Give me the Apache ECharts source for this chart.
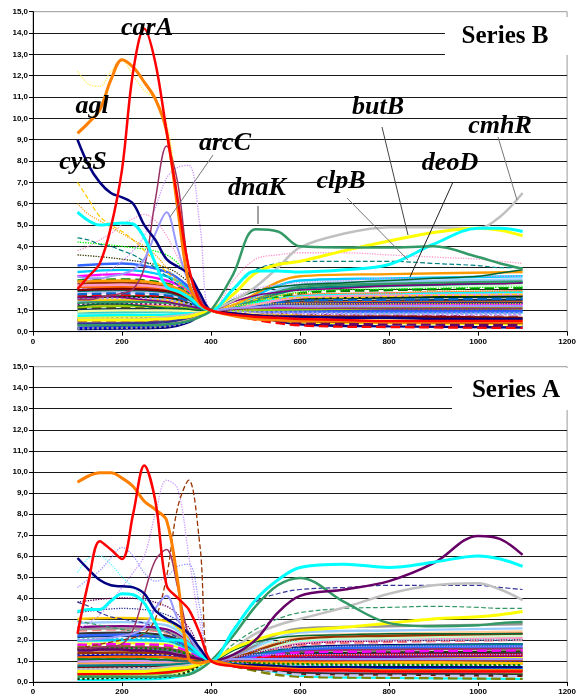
<!DOCTYPE html>
<html><head><meta charset="utf-8">
<script src="https://cdn.jsdelivr.net/npm/echarts@6/dist/echarts.min.js"></script>
<style>html,body{margin:0;padding:0;background:#fff}#c{width:579px;height:696px}</style>
</head><body><div id="c"></div>
<script>
// ---------- DATA ----------
const panelTitles = ['Series B', 'Series A'];
const xMin = 0, xMax = 1200, xStep = 200;
const yMin = 0, yMax = 15, yStep = 1;

// shared x positions for highlighted profiles
const hiX = [100,125,150,175,200,225,250,275,300,325,350,375,400,450,500,550,600,700,800,900,1000,1050,1100];
// shared x positions for background profiles
const bgX = [100,200,300,350,400,600,800,1100];

// ---- Series B (top) highlighted profiles ----
const bCarA  = [2.0,2.6,3.2,4.9,7.6,12.2,14.2,12.6,9.4,6.2,3.0,1.4,1.0,0.8,0.7,0.65,0.6,0.55,0.5,0.5,0.5,0.5,0.5];
const bAgl   = [9.3,9.8,10.4,11.8,12.75,12.4,11.7,10.9,9.4,5.8,2.3,1.3,1.0,0.75,0.6,0.55,0.5,0.5,0.45,0.45,0.45,0.45,0.45];
const bCysS  = [9.0,7.8,7.0,6.5,6.3,6.0,5.0,4.3,3.4,3.05,2.7,1.8,1.0,0.85,0.75,0.7,0.7,0.65,0.65,0.6,0.6,0.6,0.6];
const bCyan  = [5.6,5.2,5.0,5.05,5.1,5.05,4.4,3.2,2.1,1.9,1.6,1.2,1.0,2.0,2.85,2.85,2.8,2.9,3.15,4.1,4.85,4.85,4.7];
const bDnaK  = [0.3,0.3,0.3,0.3,0.3,0.3,0.3,0.3,0.35,0.4,0.5,0.7,1.0,2.7,4.8,4.7,4.0,3.95,3.95,4.0,3.5,3.2,2.95];
const bCmhR  = [0.6,0.6,0.6,0.6,0.6,0.6,0.6,0.65,0.7,0.75,0.8,0.9,1.0,1.45,2.1,3.0,3.95,4.6,4.9,4.9,4.85,5.4,6.5];
const bButB  = [0.55,0.55,0.55,0.55,0.55,0.55,0.55,0.6,0.6,0.65,0.7,0.85,1.0,1.75,2.75,3.15,3.3,3.8,4.25,4.65,4.85,4.75,4.5];
const bDeoD  = [1.2,1.25,1.3,1.3,1.3,1.25,1.2,1.15,1.1,1.1,1.05,1.0,1.0,1.5,1.9,2.1,2.2,2.3,2.4,2.5,2.6,2.75,2.9];
const bPurp  = [1.6,1.6,1.65,1.65,1.6,1.55,1.5,1.45,1.4,1.3,1.2,1.1,1.0,1.4,1.7,1.85,1.95,2.05,2.15,2.2,2.25,2.25,2.3];
const bArcC  = [2.6,2.5,2.5,2.6,2.7,2.9,3.4,4.6,5.6,3.9,2.3,1.4,1.0,1.1,1.15,1.2,1.2,1.2,1.2,1.2,1.2,1.2,1.2];
const bMauve = [1.5,1.5,1.6,1.7,1.8,2.0,3.0,6.2,8.7,7.0,3.0,1.6,1.0,1.05,1.1,1.1,1.1,1.1,1.1,1.1,1.1,1.1,1.1];
const bYelDot  = [12.2,11.6,11.5,12.2,12.7,12.0,11.3,10.9,9.8,6.5,3.0,1.5,1.0,1.2,1.3,1.3,1.3,1.3,1.3,1.3,1.3,1.3,1.3];
const bYelDash = [7.0,6.2,5.4,5.0,4.7,4.3,3.8,3.3,2.8,2.3,1.8,1.3,1.0,1.3,1.5,1.55,1.6,1.6,1.65,1.7,1.7,1.75,1.75];
const bLavDot  = [2.2,2.4,2.6,2.9,3.3,3.8,4.5,5.8,7.2,7.7,7.8,5.0,1.0,1.6,2.0,2.2,2.3,2.4,2.5,2.5,2.6,2.6,2.6];
const bPinkDot = [3.8,4.0,4.3,4.6,5.0,5.3,5.5,5.2,4.5,3.5,2.5,1.6,1.0,2.4,3.4,3.6,3.7,3.7,3.6,3.5,3.4,3.3,3.2];
const bTealDash= [4.4,4.3,4.1,4.0,3.8,3.6,3.3,3.0,2.6,2.2,1.8,1.3,1.0,2.0,2.9,3.2,3.3,3.3,3.3,3.2,3.1,3.0,3.0];
const bOrgDot  = [6.0,5.5,5.2,4.9,4.6,4.3,4.0,3.6,3.0,2.4,1.9,1.4,1.0,1.4,1.6,1.7,1.8,1.8,1.8,1.9,1.9,1.9,1.9];

// ---- Series A (bottom) highlighted profiles ----
const aOrange = [9.5,9.8,9.95,9.95,9.7,9.3,8.6,8.2,7.7,4.8,1.1,0.9,1.0,0.8,0.7,0.65,0.6,0.6,0.55,0.55,0.55,0.55,0.55];
const aRed    = [2.3,4.8,6.7,6.3,5.85,8.0,10.3,8.6,4.6,4.0,3.45,2.3,1.0,0.75,0.65,0.6,0.55,0.55,0.5,0.5,0.5,0.5,0.5];
const aNavy   = [5.9,5.35,4.85,4.6,4.55,4.5,4.2,3.4,3.0,2.7,2.3,1.6,1.0,0.85,0.8,0.75,0.7,0.7,0.7,0.7,0.7,0.7,0.7];
const aCyan   = [3.35,3.45,3.45,3.85,4.2,4.15,3.75,2.8,2.0,2.0,1.8,1.3,1.0,2.45,3.9,4.85,5.45,5.6,5.45,5.7,6.0,5.85,5.5];
const aPurple = [1.5,1.5,1.55,1.55,1.55,1.5,1.5,1.45,1.4,1.3,1.2,1.1,1.0,1.3,2.0,3.3,4.1,4.4,4.8,5.65,6.95,6.8,6.05];
const aDnaK   = [0.25,0.25,0.25,0.25,0.25,0.25,0.25,0.25,0.3,0.3,0.35,0.6,1.0,2.2,3.6,4.6,4.95,3.8,2.8,2.65,2.7,2.8,2.85];
const aGray   = [0.6,0.6,0.6,0.6,0.6,0.6,0.6,0.65,0.7,0.75,0.8,0.9,1.0,1.6,2.3,2.7,3.0,3.55,4.2,4.6,4.7,4.4,3.9];
const aYellow = [0.5,0.5,0.5,0.5,0.5,0.5,0.5,0.55,0.6,0.65,0.7,0.85,1.0,1.6,2.0,2.3,2.45,2.6,2.8,3.0,3.1,3.2,3.35];
const aDkGreen= [1.1,1.1,1.1,1.1,1.1,1.1,1.1,1.05,1.05,1.0,1.0,1.0,1.0,1.5,1.9,2.1,2.2,2.25,2.3,2.3,2.3,2.3,2.3];
const aLav    = [2.0,2.0,2.05,2.1,2.2,2.3,2.6,3.5,4.1,3.0,2.2,1.4,1.0,1.1,1.1,1.1,1.1,1.1,1.1,1.1,1.1,1.1,1.1];
const aMauve  = [1.6,1.6,1.65,1.7,1.8,2.5,4.2,5.8,6.3,4.5,2.2,1.3,1.0,1.05,1.05,1.05,1.05,1.05,1.05,1.05,1.05,1.05,1.05];
const aLavDot  = [2.5,2.8,3.2,3.8,4.5,5.2,6.0,8.0,9.6,9.2,6.0,2.8,1.0,1.2,1.3,1.3,1.3,1.3,1.3,1.3,1.3,1.3,1.3];
const aBrownDot= [1.6,1.7,1.8,1.9,2.0,2.1,2.3,3.0,5.0,8.3,9.6,6.5,1.0,1.1,1.1,1.1,1.1,1.1,1.1,1.1,1.1,1.1,1.1];
const aCyanDot = [5.2,5.9,6.0,5.6,5.0,4.5,4.0,3.5,3.0,2.5,2.0,1.5,1.0,1.5,1.8,1.9,1.95,2.0,2.0,2.0,2.0,2.0,2.0];
const aLavDot2 = [4.5,4.9,5.3,5.9,6.4,6.0,5.2,4.8,5.0,5.5,5.6,3.5,1.0,1.3,1.5,1.6,1.6,1.7,1.7,1.7,1.7,1.7,1.7];
const aNavyDash= [3.8,3.6,3.3,3.1,3.0,2.9,2.8,2.6,2.4,2.1,1.8,1.4,1.0,2.5,3.8,4.2,4.4,4.5,4.6,4.6,4.6,4.5,4.4];
const aGreenDash=[2.9,2.8,2.7,2.6,2.5,2.4,2.3,2.2,2.0,1.8,1.6,1.3,1.0,1.8,2.5,3.0,3.3,3.5,3.55,3.6,3.55,3.5,3.5];

// ---- background profiles (values at bgX) ----
const bgB = [
[0.12,0.15,0.2,0.45,1,0.35,0.25,0.2],[0.2,0.22,0.3,0.5,1,1.1,1.05,1.0],[0.3,0.35,0.4,0.6,1,0.55,0.5,0.45],
[0.4,0.42,0.5,0.7,1,1.5,1.6,1.7],[0.5,0.5,0.55,0.75,1,0.8,0.75,0.7],[0.6,0.65,0.7,0.8,1,1.25,1.3,1.3],
[0.7,0.72,0.75,0.85,1,0.45,0.4,0.35],[0.8,0.85,0.9,0.9,1,1.9,2.1,2.2],[0.9,0.92,0.95,0.95,1,0.95,0.9,0.9],
[1.0,1.05,1.05,1.0,1,1.4,1.45,1.5],[1.1,1.12,1.1,1.05,1,0.65,0.6,0.55],[1.2,1.25,1.2,1.1,1,1.7,1.8,1.9],
[1.3,1.32,1.3,1.15,1,1.0,1.0,1.05],[1.4,1.45,1.4,1.2,1,2.2,2.35,2.45],[1.5,1.5,1.45,1.25,1,0.75,0.7,0.65],
[1.6,1.65,1.6,1.35,1,1.55,1.6,1.65],[1.7,1.72,1.65,1.4,1,0.3,0.22,0.18],[1.8,1.85,1.75,1.45,1,1.15,1.2,1.2],
[1.9,1.95,1.85,1.5,1,2.0,2.15,2.3],[2.0,2.05,1.95,1.6,1,0.85,0.8,0.8],[2.1,2.1,2.0,1.65,1,1.35,1.4,1.4],
[2.25,2.3,2.1,1.7,1,0.5,0.45,0.4],[2.4,2.45,2.25,1.8,1,1.8,1.95,2.05],[2.6,2.7,2.4,1.9,1,1.2,1.25,1.3],
[2.8,2.9,2.6,2.0,1,2.4,2.5,2.6],[3.1,3.2,2.8,2.1,1,0.95,0.95,0.95],[0.15,0.18,0.25,0.5,1,0.7,0.65,0.6],
[0.35,0.38,0.45,0.65,1,1.3,1.35,1.35],[0.55,0.58,0.62,0.78,1,0.4,0.35,0.3],[0.75,0.78,0.8,0.88,1,1.65,1.75,1.85],
[0.95,1.0,1.0,0.98,1,0.6,0.55,0.5],[1.15,1.2,1.15,1.08,1,1.05,1.1,1.1],[1.35,1.4,1.35,1.2,1,2.1,2.25,2.35],
[1.55,1.58,1.5,1.3,1,0.9,0.85,0.85],[1.75,1.8,1.7,1.42,1,1.45,1.5,1.55],[1.95,2.0,1.9,1.55,1,0.7,0.7,0.65],
[2.15,2.2,2.05,1.68,1,1.6,1.7,1.75],[2.35,2.4,2.2,1.75,1,2.6,2.7,2.8],[3.6,3.4,3.0,2.3,1,1.25,1.3,1.35],
[4.2,4.0,3.6,2.6,1,1.85,2.0,2.1]
];
const bgA = [
[0.1,0.12,0.18,0.4,1,0.3,0.2,0.15],[0.22,0.25,0.3,0.5,1,1.05,1.1,1.1],[0.32,0.35,0.42,0.6,1,0.5,0.45,0.4],
[0.42,0.45,0.5,0.7,1,1.45,1.55,1.6],[0.52,0.55,0.6,0.75,1,0.75,0.7,0.7],[0.62,0.65,0.7,0.82,1,1.2,1.25,1.25],
[0.72,0.75,0.78,0.88,1,0.4,0.35,0.3],[0.82,0.85,0.88,0.92,1,1.85,2.0,2.1],[0.92,0.95,0.98,0.98,1,0.9,0.9,0.88],
[1.02,1.05,1.05,1.02,1,1.35,1.4,1.45],[1.12,1.15,1.12,1.05,1,0.6,0.55,0.5],[1.22,1.25,1.2,1.1,1,1.65,1.75,1.8],
[1.32,1.35,1.3,1.15,1,1.0,1.0,1.0],[1.42,1.45,1.4,1.2,1,2.15,2.3,2.4],[1.52,1.55,1.5,1.3,1,0.7,0.65,0.6],
[1.62,1.65,1.6,1.35,1,1.5,1.55,1.6],[1.72,1.75,1.7,1.4,1,0.25,0.2,0.15],[1.82,1.85,1.8,1.45,1,1.1,1.15,1.15],
[1.92,1.95,1.9,1.5,1,1.95,2.1,2.2],[2.02,2.05,2.0,1.6,1,0.8,0.78,0.75],[2.15,2.2,2.1,1.65,1,1.3,1.35,1.35],
[2.3,2.35,2.2,1.75,1,0.45,0.4,0.35],[2.45,2.5,2.35,1.85,1,1.75,1.9,2.0],[2.6,2.65,2.5,1.9,1,1.15,1.2,1.25],
[2.8,2.85,2.7,2.0,1,2.35,2.45,2.55],[3.0,3.05,2.9,2.1,1,0.95,0.95,0.9],[0.15,0.2,0.25,0.5,1,0.65,0.6,0.55],
[0.37,0.4,0.45,0.65,1,1.25,1.3,1.3],[0.57,0.6,0.65,0.78,1,0.35,0.3,0.28],[0.77,0.8,0.82,0.9,1,1.6,1.7,1.8],
[0.97,1.0,1.0,1.0,1,0.55,0.5,0.48],[1.17,1.2,1.18,1.08,1,1.0,1.05,1.05],[1.37,1.4,1.35,1.2,1,2.05,2.2,2.3],
[1.57,1.6,1.55,1.32,1,0.85,0.82,0.8],[1.77,1.8,1.75,1.45,1,1.4,1.45,1.5],[1.97,2.0,1.95,1.55,1,0.68,0.65,0.62],
[2.2,2.25,2.1,1.7,1,1.55,1.65,1.7],[2.5,2.55,2.4,1.85,1,2.55,2.65,2.75],[3.3,3.5,3.2,2.4,1,1.2,1.25,1.3],
[3.8,4.0,3.6,2.6,1,1.8,1.95,2.0]
];

// gene annotation labels (top panel)
const geneLabels = ['carA','agl','cysS','arcC','dnaK','clpB','butB','deoD','cmhR'];

// ---------- STYLE / BUILD ----------
const palette = ['#000080','#FF00FF','#FFFF00','#00FFFF','#800080','#800000','#008080','#0000FF','#00CCFF','#CCFFCC',
 '#FFFF99','#99CCFF','#FF99CC','#CC99FF','#FFCC99','#3366FF','#33CCCC','#99CC00','#FFCC00','#FF9900','#FF6600',
 '#666699','#969696','#003366','#339966','#003300','#333300','#993300','#993366','#333399','#333333','#9999FF',
 '#FF0000','#00FF00','#008000','#808000','#660066','#FF8080','#0066CC','#CCCCFF'];

function mk(g, xs, ys, color, width, type, z) {
  return {
    type: 'line', xAxisIndex: g, yAxisIndex: g,
    data: xs.map((x, i) => [x, ys[i]]),
    smooth: 0.35, showSymbol: false, symbol: 'none', silent: true,
    lineStyle: { color: color, width: width, type: type || 'solid' },
    z: z || 2, animation: false
  };
}

const series = [];
[bgB, bgA].forEach((set, g) => {
  set.forEach((ys, i) => {
    const c = palette[(i * 7 + g * 3) % palette.length];
    const high = ys[0] > 3.2;
    const t = high ? 'dotted' : ((i % 6 === 4) ? 'dashed' : ((i % 7 === 5) ? 'dotted' : 'solid'));
    series.push(mk(g, bgX, ys, c, high ? 1.3 : 2.4, t, 2));
  });
});
// top extras
series.push(mk(0, hiX, bYelDot, '#FFEE55', 1.3, 'dotted', 3));
series.push(mk(0, hiX, bYelDash, '#FFCC00', 1.2, 'dashed', 3));
series.push(mk(0, hiX, bLavDot, '#CC99FF', 1.3, 'dotted', 3));
series.push(mk(0, hiX, bPinkDot, '#FF99CC', 1.3, 'dotted', 3));
series.push(mk(0, hiX, bTealDash, '#008080', 1.2, 'dashed', 3));
series.push(mk(0, hiX, bOrgDot, '#FF9900', 1.2, 'dotted', 3));
series.push(mk(0, hiX, bDeoD, '#006633', 1.5, 'solid', 4));
series.push(mk(0, hiX, bPurp, '#800080', 1.5, 'solid', 4));
series.push(mk(0, hiX, bMauve, '#993366', 1.5, 'solid', 5));
series.push(mk(0, hiX, bArcC, '#9999FF', 2, 'solid', 5));
series.push(mk(0, hiX, bCmhR, '#C0C0C0', 2.5, 'solid', 6));
series.push(mk(0, hiX, bButB, '#FFFF00', 3, 'solid', 6));
series.push(mk(0, hiX, bCyan, '#00FFFF', 3, 'solid', 7));
series.push(mk(0, hiX, bDnaK, '#339966', 2.5, 'solid', 7));
series.push(mk(0, hiX, bCysS, '#000080', 2.5, 'solid', 8));
series.push(mk(0, hiX, bAgl, '#FF8000', 3, 'solid', 8));
series.push(mk(0, hiX, bCarA, '#FF0000', 2.5, 'solid', 9));
// bottom extras
series.push(mk(1, hiX, aLavDot, '#CC99FF', 1.3, 'dotted', 3));
series.push(mk(1, hiX, aBrownDot, '#993300', 1.3, 'dashed', 3));
series.push(mk(1, hiX, aCyanDot, '#66FFFF', 1.3, 'dotted', 3));
series.push(mk(1, hiX, aLavDot2, '#9999FF', 1.3, 'dotted', 3));
series.push(mk(1, hiX, aNavyDash, '#333399', 1.2, 'dashed', 3));
series.push(mk(1, hiX, aGreenDash, '#339966', 1.2, 'dashed', 3));
series.push(mk(1, hiX, aDkGreen, '#006633', 1.5, 'solid', 4));
series.push(mk(1, hiX, aMauve, '#993366', 1.5, 'solid', 5));
series.push(mk(1, hiX, aLav, '#9999FF', 2, 'solid', 5));
series.push(mk(1, hiX, aGray, '#C0C0C0', 2.5, 'solid', 6));
series.push(mk(1, hiX, aYellow, '#FFFF00', 3, 'solid', 6));
series.push(mk(1, hiX, aDnaK, '#339966', 2.5, 'solid', 7));
series.push(mk(1, hiX, aPurple, '#660066', 2.5, 'solid', 7));
series.push(mk(1, hiX, aCyan, '#00FFFF', 3, 'solid', 7));
series.push(mk(1, hiX, aNavy, '#000080', 2.5, 'solid', 8));
series.push(mk(1, hiX, aOrange, '#FF8000', 3, 'solid', 8));
series.push(mk(1, hiX, aRed, '#FF0000', 2.5, 'solid', 9));

const axisFont = { fontSize: 8, fontWeight: 'bold', fontFamily: 'Liberation Sans', color: '#000' };
function xAx(g) {
  return { type: 'value', gridIndex: g, min: xMin, max: xMax, interval: xStep,
    axisLine: { show: true, onZero: false, lineStyle: { color: '#000', width: 1 } },
    axisTick: { show: true, length: 4, lineStyle: { color: '#000' } },
    axisLabel: Object.assign({ margin: 6, formatter: v => String(v) }, axisFont),
    splitLine: { show: false } };
}
function yAx(g) {
  return { type: 'value', gridIndex: g, min: yMin, max: yMax, interval: yStep,
    axisLine: { show: true, lineStyle: { color: '#000', width: 1 } },
    axisTick: { show: true, length: 4, lineStyle: { color: '#000' } },
    axisLabel: Object.assign({ margin: 5, formatter: v => v.toFixed(1).replace('.', ',') }, axisFont),
    splitLine: { show: true, showMaxLine: false, lineStyle: { color: '#1a1a1a', width: 1 } } };
}

const labelFont = { fontSize: 26, fontWeight: 'bold', fontStyle: 'italic', fontFamily: 'Liberation Serif', fill: '#000', align: 'center', verticalAlign: 'middle' };
const labelPos = [[147,28],[92,106],[83,162],[225,143],[257,188],[341,181],[378,107],[450,163],[500,126]];
const leaders = [[213,155,170,217,'#777'],[258,206,258,224,'#444'],[347,198,408,260,'#777'],
                 [382,127,408,235,'#444'],[453,182,410,277,'#222'],[498,137,517,200,'#777']];
const graphic = [];
leaders.forEach(l => graphic.push({ type: 'line', z: 100, shape: { x1: l[0], y1: l[1], x2: l[2], y2: l[3] }, style: { stroke: l[4], lineWidth: 1 } }));
geneLabels.forEach((t, i) => graphic.push({ type: 'text', z: 101, x: labelPos[i][0], y: labelPos[i][1], style: Object.assign({ text: t }, labelFont) }));
// series title boxes
graphic.push({ type: 'rect', z: 100, shape: { x: 445, y: 17, width: 128, height: 38 }, style: { fill: '#fff' } });
graphic.push({ type: 'text', z: 101, x: 505, y: 37, style: { text: panelTitles[0], fontSize: 25, fontWeight: 'bold', fontFamily: 'Liberation Serif', fill: '#000', align: 'center', verticalAlign: 'middle' } });
graphic.push({ type: 'rect', z: 100, shape: { x: 452, y: 368, width: 121, height: 42 }, style: { fill: '#fff' } });
graphic.push({ type: 'text', z: 101, x: 516, y: 391, style: { text: panelTitles[1], fontSize: 25, fontWeight: 'bold', fontFamily: 'Liberation Serif', fill: '#000', align: 'center', verticalAlign: 'middle' } });

const chart = echarts.init(document.getElementById('c'), null, { renderer: 'canvas' });
chart.setOption({
  animation: false,
  backgroundColor: '#fff',
  grid: [
    { left: 33, top: 11.7, width: 540, height: 320, show: true, borderColor: '#999', borderWidth: 1, backgroundColor: 'transparent' },
    { left: 33, top: 366.7, width: 540, height: 319.3, show: true, borderColor: '#999', borderWidth: 1, backgroundColor: 'transparent' }
  ],
  xAxis: [xAx(0), xAx(1)],
  yAxis: [yAx(0), yAx(1)],
  series: series,
  graphic: graphic
});
</script></body></html>
